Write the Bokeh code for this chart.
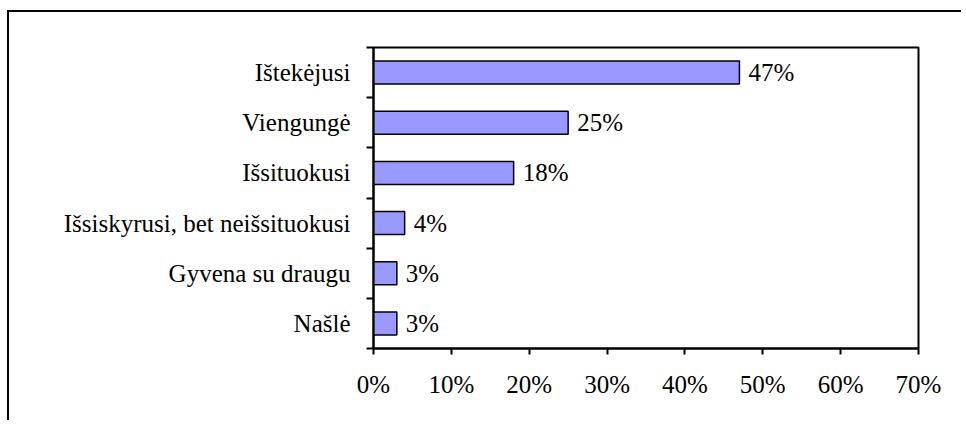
from bokeh.plotting import figure
from bokeh.models import FixedTicker, PrintfTickFormatter, ColumnDataSource, Range1d
from bokeh.core.properties import value
from bokeh.embed import file_html
from bokeh.resources import INLINE

categories = ["Ištekėjusi", "Viengungė", "Išsituokusi", "Išsiskyrusi, bet neišsituokusi", "Gyvena su draugu", "Našlė"]
values = [47, 25, 18, 4, 3, 3]
x_ticks = [0, 10, 20, 30, 40, 50, 60, 70]

n = len(categories)
# bottom-up positions: first category at top
ypos = [n - 1 - i + 0.5 for i in range(n)]
labels = [f"{v}%" for v in values]

src = ColumnDataSource(dict(y=ypos, v=values, lab=labels))

FONT = "Liberation Serif"
FS = "25px"

p = figure(width=954, height=410, output_backend="svg", toolbar_location=None,
           x_range=Range1d(0, 70), y_range=Range1d(0, n),
           min_border_left=364, min_border_right=45, min_border_top=35, min_border_bottom=74)
p.styles = {"border-left": "2px solid black", "border-top": "2px solid black",
            "margin-top": "10px", "margin-left": "7px"}

p.hbar(y="y", right="v", left=0, height=0.46, source=src,
       fill_color="#9999FF", line_color="black", line_width=1.5)
p.text(x="v", y="y", text="lab", source=src, x_offset=9,
       text_font=value(FONT), text_font_size=FS, text_baseline="middle", text_align="left",
       text_color="black")

p.grid.visible = False
p.outline_line_color = "black"
p.outline_line_width = 2
p.background_fill_color = "white"
p.border_fill_color = "white"

xa = p.xaxis[0]
xa.ticker = FixedTicker(ticks=x_ticks)
xa.formatter = PrintfTickFormatter(format="%d%%")
xa.axis_line_width = 2
xa.major_tick_line_width = 2
xa.major_tick_out = 6
xa.major_tick_in = 0
xa.minor_tick_line_color = None
xa.major_label_text_font = FONT
xa.major_label_text_font_size = FS
xa.major_label_text_color = "black"
xa.major_label_standoff = 16

ya = p.yaxis[0]
ya.ticker = FixedTicker(ticks=ypos, minor_ticks=list(range(n + 1)))
ya.major_label_overrides = {y: c for y, c in zip(ypos, categories)}
ya.axis_line_width = 2
ya.major_tick_out = 0
ya.major_tick_in = 0
ya.major_tick_line_color = None
ya.minor_tick_out = 7
ya.minor_tick_in = 0
ya.minor_tick_line_width = 2
ya.minor_tick_line_color = "black"
ya.major_label_text_font = FONT
ya.major_label_text_font_size = FS
ya.major_label_text_color = "black"
ya.major_label_standoff = 16

open("out.html", "w").write(file_html(p, INLINE))
